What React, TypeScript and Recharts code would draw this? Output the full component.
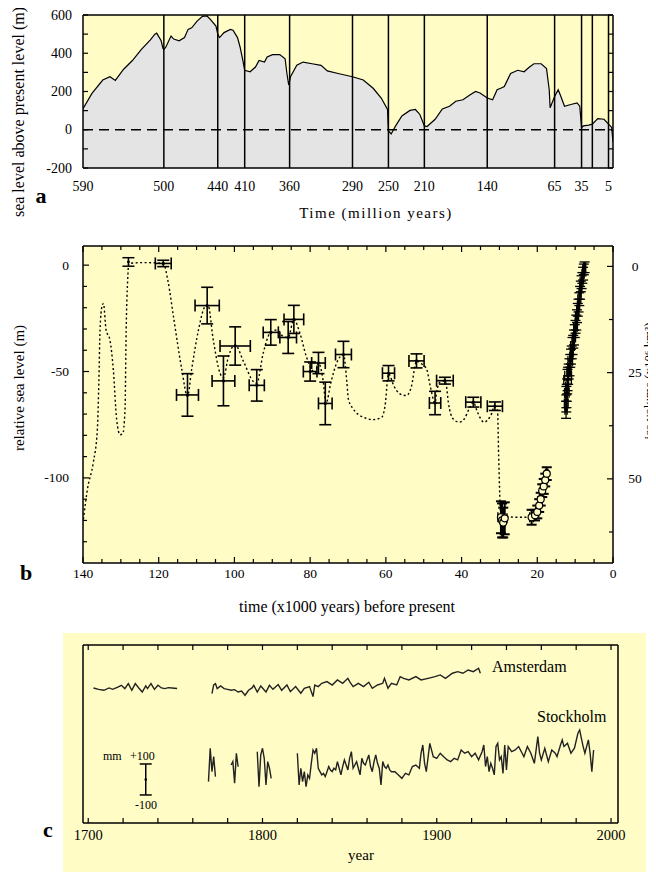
import React from 'react';
import { ComposedChart, Area, Line, Scatter, XAxis, YAxis, ReferenceLine, ErrorBar, CartesianGrid } from 'recharts';

const SERIF = '"Liberation Serif", "Times New Roman", serif';
const YELLOW = '#fffcc6';
const GREY = '#e4e4e4';

// ---------- Panel a: sea level over the Phanerozoic ----------
const ageMa = [590,580,568,560,554,545,535,525,515,510,508,503,501,500,498,492,489,483,477,473,469,463,457,452,448,442,440,438,433,426,423,418,415,412,410,404,398,394,388,385,379,371,365,363,361,359,352,345,335,325,318,306,290,278,267,258,251,250,247,242,235,226,220,215,210,207,198,190,182,175,167,159,153,148,140,134,129,125,121,114,106,99,93,88,80,74,71,70,65,61,58,54,47,40,37,35,33,27,23,17,10,5,3,1.5,0];
const seaLevelM = [110,190,260,277,258,315,362,420,470,500,505,465,425,420,430,490,474,465,482,525,533,568,593,595,576,542,500,482,508,525,520,482,430,362,311,303,328,362,354,380,393,393,371,294,234,277,337,354,345,337,308,294,277,260,217,166,106,-5,-22,20,72,101,106,80,20,17,55,109,123,149,157,183,200,192,166,157,209,217,226,294,311,303,328,345,345,320,209,115,174,209,174,123,132,140,123,12,20,24,29,58,55,29,20,12,-65];
const periodBoundaries = [500,440,410,360,290,250,210,140,65,35,23,5];
const ageTicks = [590,500,440,410,360,290,250,210,140,65,35,5];
const seaTicks = [-200,-100,0,100,200,300,400,500,600];
const seaLabels = [-200,0,200,400,600];

// ---------- Panel b: last glacial cycle ----------
const curveT = [139.9,138.8,137.3,136.2,135.8,135.5,135.0,134.6,133.9,132.9,132.0,131.1,130.2,129.5,128.9,128.6,128.2,127.9,124.0,118.8,117.5,116.1,113.9,112.4,111.3,109.5,107.8,107.0,105.6,103.8,102.9,101.6,99.8,97.6,95.0,94.1,92.4,90.6,88.8,87.1,85.8,84.3,82.7,81.0,79.6,78.7,77.8,76.6,75.8,74.5,73.0,71.2,70.3,69.9,68.6,65.9,63.3,61.1,60.2,59.3,57.9,56.3,54.6,53.2,52.3,51.9,50.5,49.2,48.3,47.0,46.6,45.7,44.4,44.0,43.5,42.2,40.6,39.3,38.0,36.9,35.8,34.1,32.3,31.2,30.5,30.2,29.6,25.0,21.5,20.2,19.2,18.4,17.4];
const curveV = [-119.5,-105,-93,-77,-54,-30.5,-19.5,-18,-30.5,-35,-49,-72.7,-79.7,-79.2,-68,-30.5,-7,0.8,1.2,0.8,-8,-24.2,-49,-61.7,-49,-30.5,-19.5,-18.7,-35,-50.8,-53,-43,-37.5,-45.3,-54.7,-55.5,-41.4,-32,-30.5,-33.6,-34,-25.5,-32,-43,-49,-50.8,-46,-53.9,-64.8,-55,-46,-42,-55,-63,-67.6,-71.5,-72.6,-71.5,-66,-51,-56.7,-60.5,-61.3,-56.7,-47.3,-45,-46.5,-49,-56.7,-64.8,-59.8,-55,-54.3,-56.7,-64.4,-72.3,-73.8,-72.3,-67.6,-64.4,-69.1,-73.8,-70.7,-66.3,-68.3,-90,-118,-118.5,-118.5,-117,-112,-105,-99];

const crossT = [118.8,112.4,107.2,102.9,99.8,94.1,90.4,85.8,84.3,80.0,77.8,76.0,71.2,59.3,51.9,47.0,44.4,36.9,31.2];
const crossV = [0.8,-61,-19,-54.4,-38,-56.5,-31.6,-34,-25.5,-50,-46,-65,-42,-50.8,-45,-64.8,-54.3,-64.4,-66.3];
const crossXe = [2.1,2.9,3.2,3.0,4.0,2.0,2.0,2.2,2.6,1.8,1.8,1.8,2.1,1.6,2.0,1.5,2.2,2.0,2.0];
const crossYe = [1.5,10,8.6,11.7,9,7.4,6,7.5,6.6,4.5,5,10,6.2,3.6,3.3,5.5,1.6,2.3,2];

const standT = [128.0];
const standV = [1.5];
const standYe = [2];

const lgmT = [29.6,29.3,29.0,28.6,21.5,20.6,20.0,19.5,19.1,18.7,18.3,17.9,17.5];
const lgmV = [-118.5,-120,-121,-119,-118.5,-117.5,-116,-113,-110,-106,-104,-101,-98];
const lgmXe = [0.8,0.4,0.4,0.6,0.5,0.4,0.4,0.3,0.3,0.4,0.3,0.4,0.3];
const lgmYe = [7.5,8,7,7.5,3.5,2.5,3,3,3,3,3.5,3,3];

const coralT = [12.4,12.35,12.3,12.2,12.1,12.0,11.85,11.7,11.5,11.3,11.1,10.9,10.7,10.5,10.3,10.1,9.9,9.7,9.5,9.3,9.1,8.9,8.7,8.5,8.3,8.1,7.9,7.7,7.5];
const coralV = [-68,-65,-62,-60,-57,-54,-52,-50,-48,-45,-43,-41,-38,-36,-34,-31,-29,-27,-24,-21,-19,-16,-13,-10,-8,-6,-4,-2,-1];
const coralXe = [0.3,0.5,0.3,0.6,0.4,1.0,0.9,0.5,0.4,0.6,0.3,0.4,0.5,0.3,0.4,0.3,0.5,0.3,0.4,0.3,0.3,0.4,0.3,0.3,0.4,0.3,0.3,0.3,0.3];
const coralYe = [4,4,5,4,3.5,5,4,3.5,4,3,3.5,3,4,3,3.5,3,3,3.5,3,3,3,3,3,2.5,3,2.5,3,2.5,2.5];

const kyTicks = [0,5,10,15,20,25,30,35,40,45,50,55,60,65,70,75,80,85,90,95,100,105,110,115,120,125,130,135,140];
const slTicks = [-130,-120,-110,-100,-90,-80,-70,-60,-50,-40,-30,-20,-10,0];
const slLabels = [0,-50,-100];
const iceTicks = [0,12.5,25,37.5,50,62.5];
const iceLabels = [0,25,50];

// ---------- Panel c: tide gauges ----------
const amsYears = [1703,1706,1709,1712,1714,1717,1719,1721,1723,1725,1727,1729,1731,1733,1734,1736,1738,1740,1742,1744,1746,1748,1751,1760,1771,1772,1773,1774,1776,1778,1780,1782,1784,1786,1788,1790,1792,1794,1795,1797,1799,1802,1804,1806,1809,1811,1814,1816,1819,1822,1824,1827,1829,1830,1832,1834,1837,1840,1843,1846,1849,1850,1852,1855,1858,1861,1863,1866,1869,1870,1872,1874,1877,1879,1881,1884,1888,1891,1895,1899,1902,1905,1909,1912,1915,1918,1921,1924,1925];
const amsMm = [0,-9,-15,0,-9,6,17,-4,28,-15,28,0,-26,13,-4,28,-9,17,0,-4,2,0,-4,null,-36,20,28,-4,13,-4,-9,-15,-11,-26,-20,-47,-15,0,17,-26,13,-26,17,-9,22,-15,19,-24,9,-34,-2,9,-56,19,9,30,41,19,52,30,62,41,9,30,9,37,-2,19,30,62,-2,30,19,73,62,52,73,52,62,73,84,62,95,105,95,116,105,127,95];

const stoYears = [1769,1770,1771,1772,1773,1775,1782,1783,1784,1785,1786,1790,1797,1798,1799,1800,1801,1802,1803,1804,1805,1810,
  1820,1821,1822,1823,1824,1825,1826,1827,1828,1829,1830,1831,1832,1833,1834,1835,1836,1837,1838,1839,1840,1841,1842,1843,1844,1845,1846,1847,1848,1849,1850,1851,1852,1853,1854,1855,1856,1857,1858,1859,1860,1861,1862,1863,1864,1865,1866,1867,1868,1869,1870,1871,1872,1873,1874,
  1876,1878,1880,1882,1884,1886,1888,1890,1891,1892,1893,1894,1896,1898,1900,1902,1904,1906,1908,1910,1912,1914,1916,1918,1920,1922,1924,1926,1927,1928,1929,1930,1931,1932,1933,1934,1935,1936,1937,1938,1939,1940,1941,1943,1945,1947,1949,1950,1952,1954,1956,1958,1959,1960,1962,1964,1966,1968,1969,1971,1972,1973,1975,1977,1979,1981,1982,1983,1984,1985,1987,1988,1989,1990];
const stoMm = [-75,140,-11,86,-43,null,32,54,-86,107,21,null,118,-108,97,140,75,-97,54,11,-54,null,
  108,-97,11,-75,-11,-108,-32,-54,43,129,108,140,11,-11,-32,-22,-43,-11,22,0,-11,11,0,54,11,-32,22,65,32,0,75,118,11,32,54,11,-32,75,43,32,65,97,22,-11,54,97,43,11,-97,54,22,11,32,0,-11,
  -11,-32,-54,-22,-32,22,32,11,108,161,43,-11,172,86,75,108,86,65,54,75,65,129,108,118,86,108,65,118,161,22,86,-11,43,11,-32,151,172,65,86,-22,161,0,151,118,129,151,108,86,151,108,43,215,108,65,140,54,129,108,86,161,194,151,172,108,140,237,258,204,151,108,194,108,-11,129];

const scaleBar = [{ year: 1733, mm: 0, err: 100 }];
const yearTicks = [1700,1720,1740,1760,1780,1800,1820,1840,1860,1880,1900,1920,1940,1960,1980,2000];
const yearLabels = [1700,1800,1900,2000];

// ---------- helpers ----------
type Side = 'bottom' | 'top' | 'left' | 'right';
const makeTick = (side: Side, len: (v: number) => number, label: (v: number) => string | null, gap: number, fontSize = 14, anchor?: string) =>
  (p: any) => {
    const x = Number(p.x), y = Number(p.y);
    const v = Number(p.payload?.value);
    const L = len(v);
    const t = label(v);
    let x2 = x, y2 = y, tx = x, ty = y, ta = 'middle';
    if (side === 'bottom') { y2 = y - L; ty = y + gap; }
    else if (side === 'top') { y2 = y + L; ty = y - gap; }
    else if (side === 'left') { x2 = x + L; tx = x - gap; ta = 'end'; }
    else { x2 = x - L; tx = x + gap; ta = 'start'; }
    if (anchor) ta = anchor;
    return (
      <g>
        {L > 0 && <line x1={x} y1={y} x2={x2} y2={y2} stroke="#000" strokeWidth={1.2} />}
        {t !== null && (
          <text x={tx} y={ty} textAnchor={ta as any} dominantBaseline="central" fontFamily={SERIF} fontSize={fontSize} fill="#000">{t}</text>
        )}
      </g>
    );
  };

const AX = { stroke: '#000', strokeWidth: 1.5 };

const T = ({ x, y, children, size = 14, bold = false, rot = 0, anchor = 'middle', ls = 0 }: any) => {
  const tx = anchor === 'middle' ? '-50%' : anchor === 'start' ? '0%' : '-100%';
  return (
    <div style={{ position: 'absolute', left: x - 8, top: y - 8, transform: `translate(${tx}, -50%) rotate(${rot}deg)`, fontFamily: SERIF, fontSize: size, fontWeight: bold ? 700 : 400, lineHeight: 1, whiteSpace: 'nowrap', letterSpacing: ls, color: '#000' }}>
      {children}
    </div>
  );
};

const dotShape = (r: number) => (p: any) => <circle cx={p.cx} cy={p.cy} r={r} fill="#000" />;
const ringShape = (p: any) => <circle cx={p.cx} cy={p.cy} r={3.5} fill={YELLOW} stroke="#000" strokeWidth={1.2} />;

const PanelA = () => {
  const data = ageMa.map((a, i) => ({ age: a, sl: seaLevelM[i] }));
  return (
    <ComposedChart width={640} height={215} data={data} margin={{ top: 6, right: 34, bottom: 25, left: 0 }}>
      <CartesianGrid xAxisId="b" yAxisId="l" horizontal={false} vertical={false} fill={YELLOW} stroke="none" />
      <XAxis xAxisId="b" dataKey="age" type="number" domain={[0, 590]} reversed allowDataOverflow ticks={ageTicks} interval={0}
        tickSize={0} tickMargin={0} tickLine={false} axisLine={AX} height={30} tick={makeTick('bottom', () => 0, v => String(v), 18)} />
      <XAxis xAxisId="t" orientation="top" type="number" domain={[0, 590]} reversed allowDataOverflow tick={false} tickLine={false} axisLine={AX} height={1} />
      <YAxis yAxisId="l" type="number" domain={[-200, 600]} allowDataOverflow ticks={seaTicks} interval={0} width={75}
        tickSize={0} tickMargin={0} tickLine={false} axisLine={AX} tick={makeTick('left', () => 5, v => (seaLabels.includes(v) ? String(v) : null), 11)} />
      <YAxis yAxisId="r" orientation="right" type="number" domain={[-200, 600]} allowDataOverflow ticks={seaTicks} interval={0} width={1}
        tickSize={0} tickMargin={0} tickLine={false} axisLine={AX} tick={makeTick('right', () => 5, () => null, 0)} />
      <Area xAxisId="b" yAxisId="l" dataKey="sl" type="linear" baseValue="dataMin" fill={GREY} fillOpacity={1} stroke="#000" strokeWidth={1.2}
        dot={false} activeDot={false} isAnimationActive={false} />
      {periodBoundaries.map(b => (
        <ReferenceLine key={b} xAxisId="b" yAxisId="l" x={b} stroke="#000" strokeWidth={1.5} />
      ))}
      <ReferenceLine xAxisId="b" yAxisId="l" y={0} stroke="#000" strokeWidth={1.5} strokeDasharray="10 6" />
    </ComposedChart>
  );
};

const PanelB = () => {
  const curve = curveT.map((t, i) => ({ t, v: curveV[i] }));
  const crosses = crossT.map((t, i) => ({ t, v: crossV[i], xe: crossXe[i], ye: crossYe[i] }));
  const stand = standT.map((t, i) => ({ t, v: standV[i], ye: standYe[i] }));
  const lgm = lgmT.map((t, i) => ({ t, v: lgmV[i], xe: lgmXe[i], ye: lgmYe[i] }));
  const coral = coralT.map((t, i) => ({ t, v: coralV[i], xe: coralXe[i], ye: coralYe[i] }));
  const len = (v: number) => (v % 20 === 0 ? 6 : 4);
  return (
    <ComposedChart width={640} height={360} margin={{ top: 9, right: 0, bottom: 3, left: 0 }}>
      <CartesianGrid xAxisId="b" yAxisId="sl" horizontal={false} vertical={false} fill={YELLOW} stroke="none" />
      <XAxis xAxisId="b" dataKey="t" type="number" domain={[0, 140]} reversed allowDataOverflow ticks={kyTicks} interval={0}
        tickSize={0} tickMargin={0} tickLine={false} axisLine={AX} height={30}
        tick={makeTick('bottom', len, v => (v % 20 === 0 ? String(v) : null), 10, 13.5)} />
      <XAxis xAxisId="t" orientation="top" dataKey="t" type="number" domain={[0, 140]} reversed allowDataOverflow ticks={kyTicks} interval={0}
        tickSize={0} tickMargin={0} tickLine={false} axisLine={AX} height={1} tick={makeTick('top', len, () => null, 0)} />
      <YAxis yAxisId="sl" dataKey="v" type="number" domain={[-140, 9]} allowDataOverflow ticks={slTicks} interval={0} width={75}
        tickSize={0} tickMargin={0} tickLine={false} axisLine={AX}
        tick={makeTick('left', v => (slLabels.includes(v) ? 6 : 4), v => (slLabels.includes(v) ? String(v) : null), 14, 13.5)} />
      <YAxis yAxisId="ice" orientation="right" type="number" domain={[-4.8, 69.8]} reversed allowDataOverflow ticks={iceTicks} interval={0} width={35}
        tickSize={0} tickMargin={0} tickLine={false} axisLine={AX}
        tick={makeTick('right', v => (iceLabels.includes(v) ? 6 : 4), v => (iceLabels.includes(v) ? String(v) : null), 22, 13.5, 'middle')} />
      <Line xAxisId="b" yAxisId="sl" data={curve} dataKey="v" type="monotone" stroke="#000" strokeWidth={1.4} strokeDasharray="2 2.5"
        dot={false} activeDot={false} isAnimationActive={false} />
      <Scatter xAxisId="b" yAxisId="sl" data={crosses} dataKey="v" shape={dotShape(1.6)} isAnimationActive={false}>
        <ErrorBar dataKey="xe" direction="x" width={6} stroke="#000" strokeWidth={1.6} />
        <ErrorBar dataKey="ye" direction="y" width={6} stroke="#000" strokeWidth={1.6} />
      </Scatter>
      <Scatter xAxisId="b" yAxisId="sl" data={stand} dataKey="v" shape={dotShape(1.4)} isAnimationActive={false}>
        <ErrorBar dataKey="ye" direction="y" width={6} stroke="#000" strokeWidth={1.5} />
      </Scatter>
      <Scatter xAxisId="b" yAxisId="sl" data={coral} dataKey="v" shape={dotShape(1.8)} isAnimationActive={false}>
        <ErrorBar dataKey="xe" direction="x" width={5} stroke="#000" strokeWidth={1.3} />
        <ErrorBar dataKey="ye" direction="y" width={5} stroke="#000" strokeWidth={1.3} />
      </Scatter>
      <Scatter xAxisId="b" yAxisId="sl" data={lgm} dataKey="v" shape={ringShape} isAnimationActive={false}>
        <ErrorBar dataKey="xe" direction="x" width={5} stroke="#000" strokeWidth={1.4} />
        <ErrorBar dataKey="ye" direction="y" width={5} stroke="#000" strokeWidth={2} />
      </Scatter>
    </ComposedChart>
  );
};

const PanelC = () => {
  const ams = amsYears.map((y, i) => ({ year: y, mm: amsMm[i] }));
  const sto = stoYears.map((y, i) => ({ year: y, mm: stoMm[i] }));
  return (
    <ComposedChart width={640} height={239} margin={{ top: 11, right: 29, bottom: 19, left: 0 }}>
      <XAxis xAxisId="b" dataKey="year" type="number" domain={[1697, 2004]} allowDataOverflow ticks={yearTicks} interval={0}
        tickSize={0} tickMargin={0} tickLine={false} axisLine={AX} height={30}
        tick={makeTick('bottom', () => 5, v => (yearLabels.includes(v) ? String(v) : null), 12, 14.5)} />
      <XAxis xAxisId="t" orientation="top" dataKey="year" type="number" domain={[1697, 2004]} allowDataOverflow ticks={yearTicks} interval={0}
        tickSize={0} tickMargin={0} tickLine={false} axisLine={AX} height={1} tick={makeTick('top', () => 5, () => null, 0)} />
      <YAxis yAxisId="ams" dataKey="mm" type="number" domain={[-871, 277]} allowDataOverflow width={75} tick={false} tickLine={false} axisLine={AX} />
      <YAxis yAxisId="sto" orientation="right" dataKey="mm" type="number" domain={[-342, 806]} allowDataOverflow width={1} tick={false} tickLine={false} axisLine={AX} />
      <YAxis yAxisId="scale" hide dataKey="mm" type="number" domain={[-281, 868]} allowDataOverflow />
      <Line xAxisId="b" yAxisId="ams" data={ams} dataKey="mm" type="linear" stroke="#222" strokeWidth={1.4} dot={false} activeDot={false} isAnimationActive={false} />
      <Line xAxisId="b" yAxisId="sto" data={sto} dataKey="mm" type="linear" stroke="#222" strokeWidth={1.4} dot={false} activeDot={false} isAnimationActive={false} />
      <Scatter xAxisId="b" yAxisId="scale" data={scaleBar} dataKey="mm" shape={dotShape(1.3)} isAnimationActive={false}>
        <ErrorBar dataKey="err" direction="y" width={6} stroke="#000" strokeWidth={1.5} />
      </Scatter>
    </ComposedChart>
  );
};

export default function App() {
  return (
    <div style={{ position: 'relative', width: 648, height: 864, overflow: 'hidden', background: '#fff' }}>
      <div style={{ position: 'absolute', left: 55, top: 625, width: 583, height: 239, background: YELLOW }} />
      <div style={{ position: 'absolute', left: 0, top: 0 }}><PanelA /></div>
      <div style={{ position: 'absolute', left: 0, top: 228 }}><PanelB /></div>
      <div style={{ position: 'absolute', left: 0, top: 625 }}><PanelC /></div>

      <T x={19} y={112} size={16} rot={-90}>sea level above present level (m)</T>
      <T x={41} y={196} size={22} bold>a</T>
      <T x={376} y={213} size={15} ls={1.5}>Time (million years)</T>

      <T x={19} y={388} size={15} rot={-90}>relative sea level (m)</T>
      <T x={26} y={573} size={22} bold>b</T>
      <T x={347} y={607} size={16}>time (x1000 years) before present</T>
      <T x={648} y={381} size={13} rot={-90}>ice volume (x10⁶ km³)</T>

      <T x={48} y={830} size={22} bold>c</T>
      <T x={492} y={667} size={16} anchor="start">Amsterdam</T>
      <T x={537} y={717} size={16} anchor="start">Stockholm</T>
      <T x={103} y={756} size={12} anchor="start">mm</T>
      <T x={130} y={756} size={12} anchor="start">+100</T>
      <T x={135} y={805} size={12} anchor="start">-100</T>
      <T x={361} y={855} size={15}>year</T>
    </div>
  );
}
